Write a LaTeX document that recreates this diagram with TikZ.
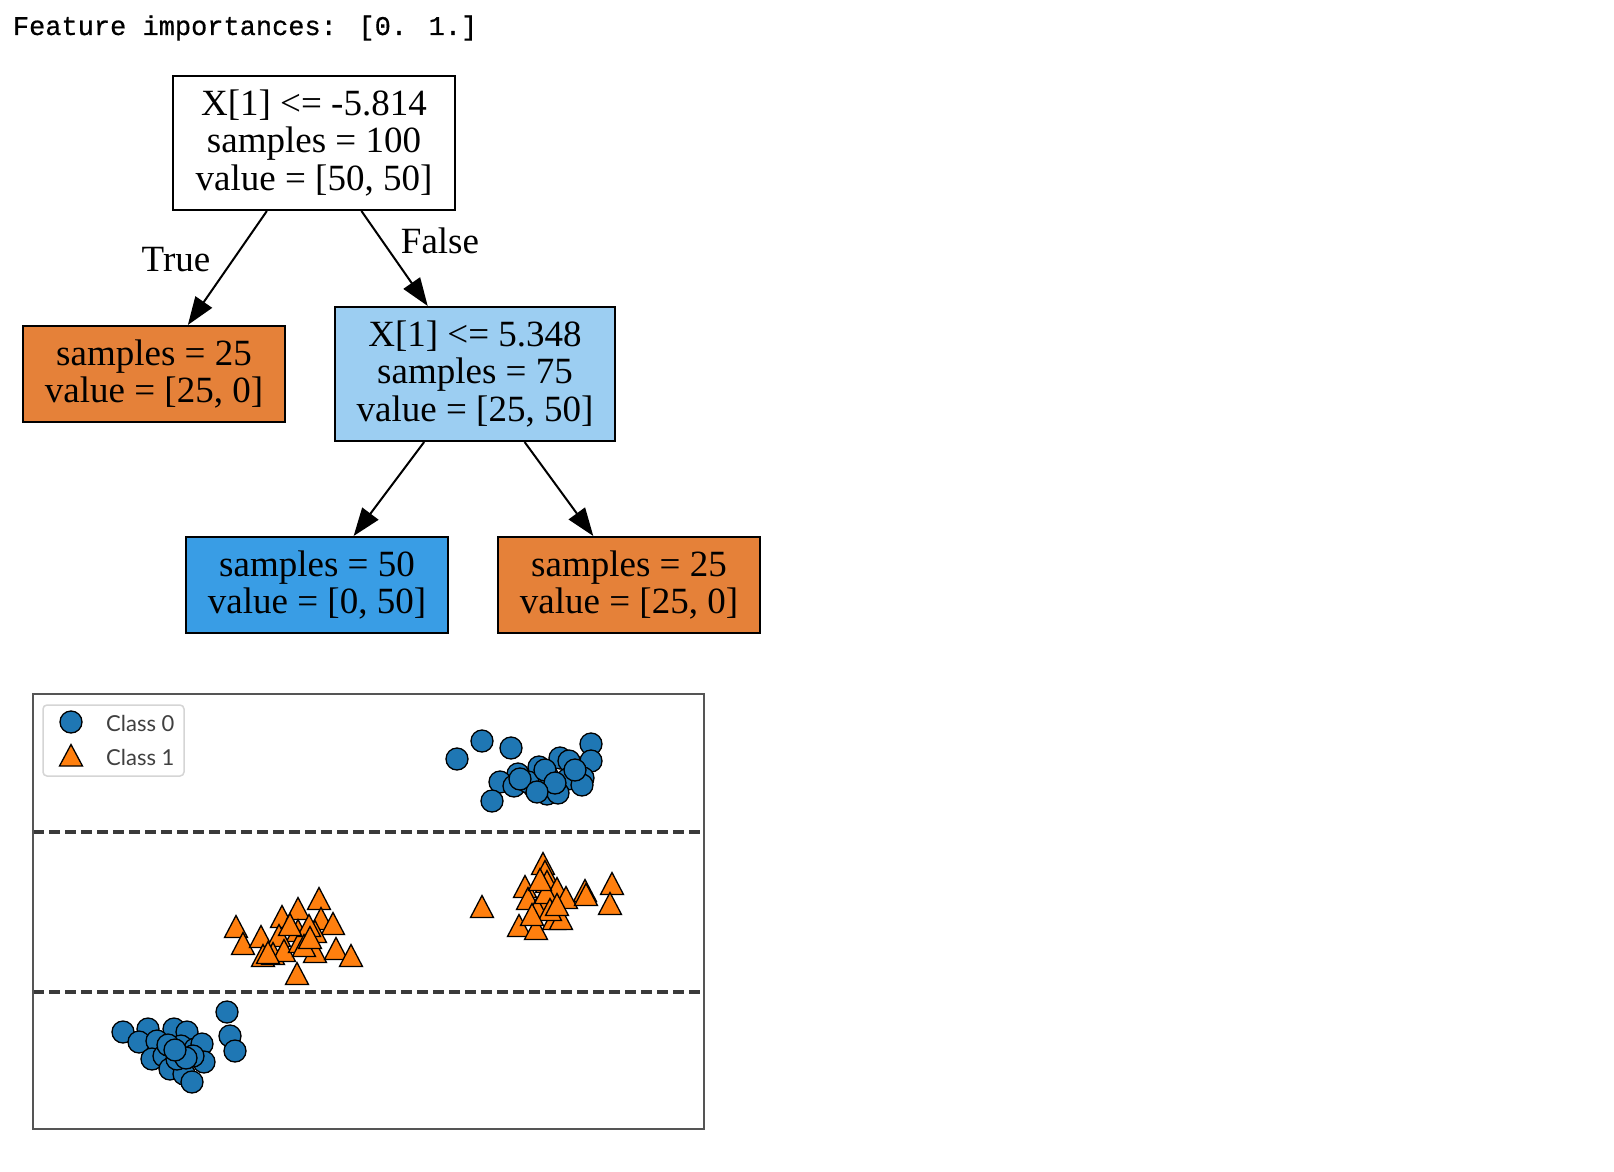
\documentclass[tikz,border=0pt]{standalone}
\usepackage{fontspec}
\setmainfont{Liberation Serif}
\newfontfamily\hdrfont[FakeBold=0.6]{Liberation Mono}
\newfontfamily\legfont{Lato}
\usetikzlibrary{arrows.meta}
\definecolor{skorange}{HTML}{E58139}
\definecolor{sklight}{HTML}{9CCEF2}
\definecolor{skblue}{HTML}{399DE5}
\definecolor{mplblue}{HTML}{1F77B4}
\definecolor{mplorange}{HTML}{FF7F0E}
\definecolor{framegray}{HTML}{555555}
\definecolor{dashgray}{HTML}{3A3A3A}
\definecolor{leggray}{HTML}{D5D5D5}
\definecolor{legtext}{HTML}{404040}
\tikzset{
  treebox/.style={draw=black, line width=2pt, rectangle, inner sep=0pt, align=center,
    font=\fontsize{37}{37.5}\selectfont},
  leafbox/.style={treebox, minimum width=262pt, minimum height=96pt},
  splitbox/.style={treebox, minimum height=134pt},
  treeedge/.style={line width=2pt, -{Triangle[length=28pt,width=20pt]}},
  edgelabel/.style={font=\fontsize{37}{37.5}\selectfont, inner sep=0pt},
  dot0/.style={fill=mplblue, draw=black, line width=1.3pt},
  tri1/.style={fill=mplorange, draw=black, line width=1.3pt, line join=miter},
  legtxt/.style={anchor=west, inner sep=0pt, text=legtext, font=\legfont\fontsize{22}{24}\selectfont},
  cutline/.style={dashgray, line width=3.5pt, dash pattern=on 11pt off 5pt}
}
\begin{document}
\begin{tikzpicture}[x=1pt,y=-1pt]
\fill[white] (0,0) rectangle (1614,1172);
\useasboundingbox (0,0) rectangle (1614,1172);

% header
\node[anchor=base west, inner sep=0pt, font=\hdrfont\fontsize{27}{30}\selectfont] (hdr) at (12.7,35) {Feature importances: [0. 1.]};

% tree
\node[splitbox, fill=white, minimum width=282pt] (root) at (314,143) {X[1] <= -5.814\\samples = 100\\value = [50, 50]};
\node[leafbox, fill=skorange] (leafA) at (154,374) {samples = 25\\value = [25, 0]};
\node[splitbox, fill=sklight, minimum width=280pt] (split) at (475,374) {X[1] <= 5.348\\samples = 75\\value = [25, 50]};
\node[leafbox, fill=skblue] (leafB) at (317,585) {samples = 50\\value = [0, 50]};
\node[leafbox, fill=skorange] (leafC) at (629,585) {samples = 25\\value = [25, 0]};

\draw[treeedge] (root) -- (leafA);
\draw[treeedge] (root) -- (split);
\draw[treeedge] (split) -- (leafB);
\draw[treeedge] (split) -- (leafC);

\node[edgelabel] (lblT) at (176,260) {True};
\node[edgelabel] (lblF) at (440,241) {False};

% scatter plot
\draw[cutline] (33,832) -- (704,832);
\draw[cutline] (33,992) -- (704,992);

\foreach \x/\y in {457/759, 482/741, 511/748, 591/744, 591/761, 560/758, 569/761, 539/767,
  518/774, 500/782, 514/786, 534/787, 548/777, 568/779, 583/778, 582/785, 547/794, 558/793,
  492/801, 528/782, 545/770, 555/783, 575/770, 520/779, 537/792}
  \draw[dot0] (\x,\y) circle[radius=11pt];

\foreach \x/\y in {123/1032, 148/1029, 174/1029, 187/1032, 139/1042, 157/1041, 181/1046,
  195/1049, 202/1044, 152/1059, 164/1056, 170/1069, 184/1074, 192/1082, 204/1062, 227/1012,
  230/1036, 235/1051, 177/1059, 193/1056, 168/1045, 186/1058, 175/1050}
  \draw[dot0] (\x,\y) circle[radius=11pt];

\foreach \x/\y in {236/927, 243/944, 261/937, 263/956, 282/917, 298/909, 319/899, 321/919,
  333/924, 298/931, 279/936, 273/954, 284/951, 300/942, 315/952, 315/932, 336/949, 351/956,
  297/974, 309/926, 304/946, 268/953, 290/925, 310/938}
  \draw[tri1] ({\x-11.5},{\y+10.5}) -- ({\x+11.5},{\y+10.5}) -- ({\x},{\y-11.5}) -- cycle;

\foreach \x/\y in {543/864, 545/872, 525/887, 547/882, 557/889, 585/891, 612/884, 610/904,
  482/907, 528/899, 546/901, 566/898, 537/909, 519/926, 536/929, 554/919, 561/919, 546/893,
  586/895, 540/880, 550/910, 532/915, 557/905}
  \draw[tri1] ({\x-11.5},{\y+10.5}) -- ({\x+11.5},{\y+10.5}) -- ({\x},{\y-11.5}) -- cycle;

\draw[framegray, line width=2pt] (33,694) rectangle (704,1129);

% legend
\draw[leggray, line width=1.5pt, rounded corners=4pt, fill=white] (43,705) rectangle (184,776);
\draw[dot0] (71,722) circle[radius=11pt];
\draw[tri1] (59.5,766) -- (82.5,766) -- (71,744.5) -- cycle;
\node[legtxt] (leg0) at (106,723) {Class 0};
\node[legtxt] (leg1) at (106,757) {Class 1};
\end{tikzpicture}
\end{document}
